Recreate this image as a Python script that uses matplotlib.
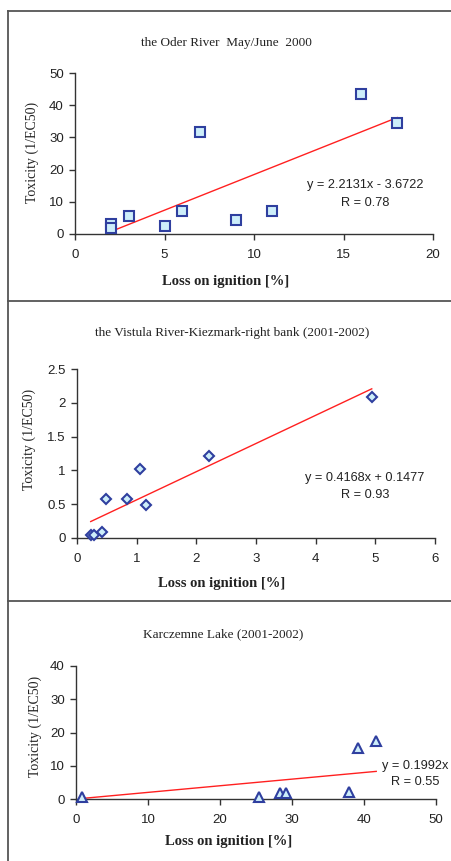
import matplotlib
matplotlib.use('Agg')
import matplotlib.pyplot as plt
from matplotlib.lines import Line2D
import numpy as np

W, H = 451, 861

# Oder River
oder_x = [2, 2, 3, 5, 6, 7, 9, 11, 16, 18]
oder_y = [3.1, 1.8, 5.5, 2.5, 7.2, 31.7, 4.3, 7.2, 43.6, 34.6]
oder_fit = (2.2131, -3.6722)

# Vistula River
vist_x = [0.23, 0.29, 0.42, 0.49, 0.84, 1.05, 1.16, 2.22, 4.94]
vist_y = [0.05, 0.05, 0.09, 0.58, 0.58, 1.02, 0.49, 1.21, 2.08]
vist_fit = (0.4168, 0.1477)

# Karczemne Lake
lake_x = [0.8, 25.4, 28.4, 29.1, 37.9, 39.1, 41.7]
lake_y = [0.5, 0.7, 1.7, 1.9, 2.2, 15.4, 17.3]
lake_fit = (0.1992, 0.0)

serif = 'Liberation Serif'
sans = 'Liberation Sans'
edge = '#2f3f9f'
face = '#cdeefa'

fig = plt.figure(figsize=(W / 100, H / 100), dpi=100)


def fx(px):
    return px / W


def fy(py):
    return 1 - py / H


panels = [
    dict(x=oder_x, y=oder_y, fit=oder_fit, marker='s', ms=6.5,
         box=(75, 433, 73, 234), xlim=(0, 20), xt=[0, 5, 10, 15, 20],
         ylim=(0, 50), yt=[0, 10, 20, 30, 40, 50],
         title='the Oder River  May/June  2000', tpos=(226, 43),
         xlpos=(226, 282), ylpos=(32, 152),
         eq=['y = 2.2131x - 3.6722', 'R = 0.78'], eqpos=[(365, 185), (365, 203)], eqha=['center', 'center']),
    dict(x=vist_x, y=vist_y, fit=vist_fit, marker='D', ms=5.5,
         box=(77, 435, 369, 538), xlim=(0, 6), xt=[0, 1, 2, 3, 4, 5, 6],
         ylim=(0, 2.5), yt=[0, 0.5, 1, 1.5, 2, 2.5],
         title='the Vistula River-Kiezmark-right bank (2001-2002)', tpos=(232, 333),
         xlpos=(222, 583), ylpos=(29, 439),
         eq=['y = 0.4168x + 0.1477', 'R = 0.93'], eqpos=[(365, 478), (365, 495)], eqha=['center', 'center']),
    dict(x=lake_x, y=lake_y, fit=lake_fit, marker='^', ms=6.5,
         box=(76, 436, 666, 799), xlim=(0, 50), xt=[0, 10, 20, 30, 40, 50],
         ylim=(0, 40), yt=[0, 10, 20, 30, 40],
         title='Karczemne Lake (2001-2002)', tpos=(223, 634),
         xlpos=(229, 842), ylpos=(35, 726),
         eq=['y = 0.1992x', 'R = 0.55'], eqpos=[(382, 766), (415, 782)], eqha=['left', 'center']),
]

for p in panels:
    l, r, t, b = p['box']
    ax = fig.add_axes([fx(l), fy(b), fx(r) - fx(l), fy(t) - fy(b)])
    ax.set_xlim(*p['xlim'])
    ax.set_ylim(*p['ylim'])
    ax.set_xticks(p['xt'])
    ax.set_yticks(p['yt'])
    ax.set_xticklabels([str(v) for v in p['xt']])
    ax.set_yticklabels(['{:g}'.format(v) for v in p['yt']])
    for s in ['top', 'right']:
        ax.spines[s].set_visible(False)
    for s in ['left', 'bottom']:
        ax.spines[s].set_color('#333333')
        ax.spines[s].set_linewidth(1.0)
    ax.tick_params(direction='out', length=4, width=1, color='#333333',
                   labelsize=9.5, pad=4)
    for lab in ax.get_xticklabels() + ax.get_yticklabels():
        lab.set_fontfamily(sans)
        lab.set_color('#222222')
    ax.xaxis.set_tick_params(pad=7)
    xs = np.array([min(p['x']), max(p['x'])])
    a, c = p['fit']
    ax.plot(xs, a * xs + c, color='#ff2020', lw=1.0, zorder=2)
    ax.plot(p['x'], p['y'], linestyle='none', marker=p['marker'], ms=p['ms'],
            mfc=face, mec=edge, mew=1.5, zorder=3, clip_on=False)

    fig.text(fx(p['tpos'][0]), fy(p['tpos'][1]), p['title'], family=serif,
             fontsize=9.5, ha='center', va='center', color='#222222')
    fig.text(fx(p['xlpos'][0]), fy(p['xlpos'][1]), 'Loss on ignition [%]', family=serif,
             fontsize=10.5, fontweight='bold', ha='center', va='center', color='#222222')
    fig.text(fx(p['ylpos'][0]), fy(p['ylpos'][1]), 'Toxicity (1/EC50)', family=serif,
             fontsize=10, rotation=90, ha='center', va='center', color='#222222')
    for txt, pos, ha in zip(p['eq'], p['eqpos'], p['eqha']):
        fig.text(fx(pos[0]), fy(pos[1]), txt, family=sans, fontsize=9.2,
                 ha=ha, va='center', color='#222222')

# panel frame lines
frame = '#555555'
fig.add_artist(Line2D([fx(8), fx(8)], [fy(11), 0], transform=fig.transFigure, color=frame, lw=1.3))
for yy in [11, 301, 601]:
    fig.add_artist(Line2D([fx(8), 1], [fy(yy), fy(yy)], transform=fig.transFigure, color=frame, lw=1.3))

fig.savefig('out.png', dpi=100)
